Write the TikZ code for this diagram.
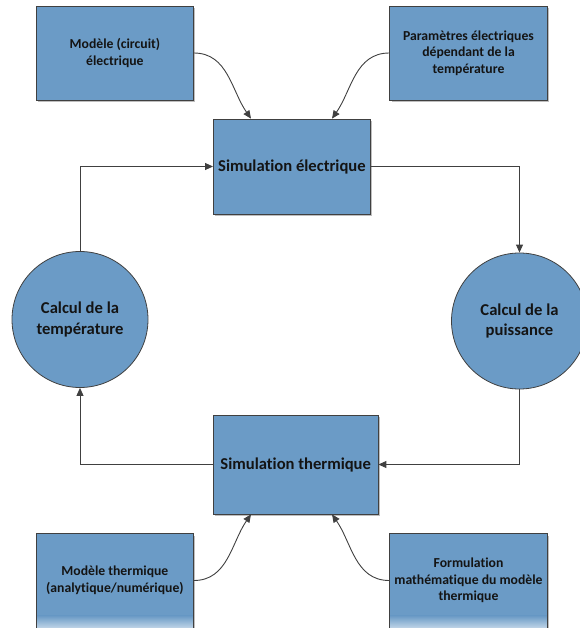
\documentclass[tikz,border=0pt]{standalone}
\usepackage{fontspec}
\setmainfont{Carlito}[Ligatures=NoCommon]
\usetikzlibrary{arrows.meta,calc,shadows}
\definecolor{boxblue}{RGB}{107,155,198}
\definecolor{edgegray}{RGB}{64,64,64}
\definecolor{shadowgray}{RGB}{190,190,190}
\definecolor{txt}{RGB}{20,20,20}
\tikzset{
  labeltext/.style={text=txt, align=center, inner sep=0pt,
    font=\bfseries\fontsize{13.7}{16.7}\selectfont},
  smallbox/.style={labeltext, rectangle, draw=edgegray, line width=0.8pt, fill=boxblue,
    drop shadow={shadow xshift=2pt, shadow yshift=-2pt, fill=shadowgray, opacity=1}},
  bigbox/.style={smallbox, font=\bfseries\fontsize{16.6}{20.2}\selectfont},
  roundnode/.style={circle, draw=edgegray, line width=0.8pt, fill=boxblue,
    text=txt, align=center, inner sep=0pt, minimum size=136pt,
    font=\bfseries\fontsize{16.6}{20.2}\selectfont},
  flow/.style={draw=edgegray, line width=0.9pt, -{Triangle[length=8pt,width=7pt]}},
}
\begin{document}
\begin{tikzpicture}[x=1pt,y=-1pt]
\useasboundingbox (0,0) rectangle (579,628);
\node[smallbox, minimum width=157pt, minimum height=94pt] (ml) at (114.9,53) {Modèle (circuit)\\électrique};
\node[smallbox, minimum width=157.7pt, minimum height=94pt] (pe) at (468.5,53) {Paramètres électriques\\dépendant de la\\température};
\node[bigbox, minimum width=157pt, minimum height=95pt] (se) at (291.9,166.5) {Simulation électrique};
\node[bigbox, minimum width=164.6pt, minimum height=99pt] (st) at (295.7,464.5) {Simulation thermique};
\node[roundnode] (lc) at (80,319.5) {Calcul de la\\température};
\node[roundnode] (rc) at (519.5,321) {Calcul de la\\puissance};
\node[smallbox, minimum width=157pt, minimum height=94pt] (mt) at (114.9,580.5) {};
\node[smallbox, minimum width=157.7pt, minimum height=94pt] (fm) at (468.5,580.5) {};
% light band at the bottom of the lower boxes
\shade[top color=boxblue, bottom color=boxblue!45!white] ($(mt.south west)+(0.5,-12)$) rectangle ($(mt.south east)+(-0.5,-0.5)$);
\shade[top color=boxblue, bottom color=boxblue!45!white] ($(fm.south west)+(0.5,-12)$) rectangle ($(fm.south east)+(-0.5,-0.5)$);
\node[labeltext] (mttext) at (mt) {Modèle thermique\\(analytique/numérique)};
\node[labeltext] (fmtext) at (fm) {Formulation\\mathématique du modèle\\thermique};
\draw[edgegray, line width=0.8pt] (mt.south west) rectangle (mt.north east);
\draw[edgegray, line width=0.8pt] (fm.south west) rectangle (fm.north east);
% connection points
\coordinate (seA) at ($(se.north west)+(38,0)$);
\coordinate (seB) at ($(se.north west)+(119,0)$);
\coordinate (stA) at ($(st.south west)+(38,0)$);
\coordinate (stB) at ($(st.south west)+(119,0)$);
\draw[flow] (ml.east) to[out=0,in=125] (seA);
\draw[flow] (pe.west) to[out=180,in=55] (seB);
\draw[flow] (mt.east) to[out=0,in=-125] (stA);
\draw[flow] (fm.west) to[out=180,in=-55] (stB);
% main loop
\draw[flow] (lc.north) |- (se.west);
\draw[flow] (se.east) -| (rc.north);
\draw[flow] (rc.south) |- (st.east);
\draw[flow] (st.west) -| (lc.south);
\end{tikzpicture}
\end{document}
